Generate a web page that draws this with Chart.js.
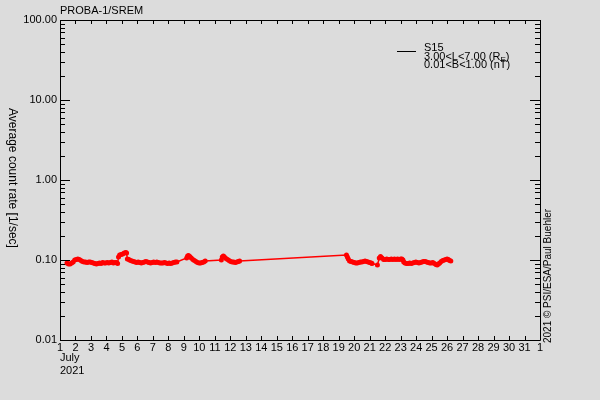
<!DOCTYPE html>
<html><head><meta charset="utf-8">
<script src="https://cdn.jsdelivr.net/npm/chart.js@4/dist/chart.umd.min.js"></script>
<style>html,body{margin:0;padding:0;background:#dcdcdc;overflow:hidden}#wrap{width:600px;height:400px;position:relative}</style>
</head><body><div id="wrap"><canvas id="c" width="600" height="400"></canvas></div>
<script>
const titleText = 'PROBA-1/SREM';
const yAxisTitle = 'Average count rate [1/sec]';
const creditText = '2021 \u00A9 PSI/ESA/Paul Buehler';
const seriesName = 'S15';
const legendLine2 = ['3.00<L<7.00 (R', 'E', ')'];
const legendLine3 = '0.01<B<1.00 (nT)';
const monthLabel = ['July', '2021'];

const days = [
  1.45,1.55,1.65,1.75,1.85,1.95,2.05,2.15,2.25,2.35,2.45,2.55,2.65,2.75,2.85,2.95,3.05,3.15,3.25,3.35,3.45,3.55,3.65,3.75,3.85,3.95,4.05,4.15,4.25,4.35,4.45,4.55,4.65,4.72,
  4.78,4.85,4.95,5.05,5.15,5.25,5.30,
  5.35,5.45,5.55,5.65,5.75,5.85,5.95,6.05,6.15,6.25,6.35,6.45,6.55,6.65,6.75,6.85,6.95,7.05,7.15,7.25,7.35,7.45,7.55,7.65,7.75,7.85,7.95,8.05,8.15,8.25,8.35,8.45,8.55,
  9.18,9.24,9.30,9.38,9.48,9.58,9.68,9.78,9.88,9.98,10.08,10.18,10.28,10.38,
  11.42,11.48,11.55,11.62,11.72,11.82,11.92,12.02,12.12,12.22,12.32,12.42,12.52,12.60,
  19.50,19.56,19.62,19.70,19.80,19.90,20.00,20.10,20.20,20.30,20.40,20.50,20.60,20.70,20.80,20.90,21.00,21.10,21.15,
  21.50,21.62,21.70,21.80,21.90,22.00,22.10,22.20,22.30,22.40,22.50,22.60,22.70,22.80,22.90,23.00,23.08,23.15,
  23.20,23.28,23.38,23.48,23.58,23.68,23.78,23.88,23.98,24.08,24.18,24.28,24.38,24.48,24.58,24.68,24.78,24.88,24.98,
  25.08,25.18,25.28,25.36,25.44,25.52,25.62,25.72,25.82,25.92,26.00,26.08,26.16,26.24
];
const rates = [
  0.0917,0.0891,0.0891,0.0917,0.0944,0.1000,0.1014,0.1029,0.1014,0.0986,0.0958,0.0944,0.0944,0.0931,0.0944,0.0944,0.0931,0.0917,0.0904,0.0891,0.0904,0.0917,0.0904,0.0931,0.0917,0.0917,0.0931,0.0917,0.0931,0.0944,0.0917,0.0931,0.0931,0.0904,
  0.1090,0.1155,0.1172,0.1189,0.1223,0.1241,0.1223,
  0.1029,0.1014,0.0986,0.0972,0.0958,0.0944,0.0931,0.0944,0.0931,0.0917,0.0931,0.0944,0.0958,0.0944,0.0931,0.0917,0.0931,0.0944,0.0931,0.0944,0.0931,0.0917,0.0917,0.0917,0.0931,0.0917,0.0904,0.0917,0.0904,0.0917,0.0931,0.0944,0.0944,
  0.1059,0.1122,0.1138,0.1106,0.1059,0.1014,0.0986,0.0958,0.0931,0.0917,0.0917,0.0931,0.0944,0.0972,
  0.1000,0.1090,0.1122,0.1090,0.1044,0.1014,0.0986,0.0958,0.0944,0.0944,0.0931,0.0944,0.0958,0.0972,
  0.1155,0.1090,0.1029,0.0972,0.0958,0.0944,0.0931,0.0917,0.0917,0.0931,0.0944,0.0944,0.0958,0.0972,0.0958,0.0944,0.0931,0.0917,0.0904,
  0.0866,0.1059,0.1106,0.1059,0.1014,0.1014,0.1029,0.1014,0.1014,0.1029,0.1014,0.1029,0.1014,0.1029,0.1014,0.1029,0.1029,0.1000,
  0.0944,0.0917,0.0904,0.0904,0.0917,0.0904,0.0917,0.0931,0.0944,0.0931,0.0917,0.0931,0.0944,0.0958,0.0958,0.0944,0.0931,0.0917,0.0917,
  0.0931,0.0904,0.0879,0.0866,0.0891,0.0917,0.0958,0.0986,0.1000,0.1014,0.1029,0.1014,0.0986,0.0972
];

const xTickDays = [1,2,3,4,5,6,7,8,9,10,11,12,13,14,15,16,17,18,19,20,21,22,23,24,25,26,27,28,29,30,31,32];
const xTickLabels = ['1','2','3','4','5','6','7','8','9','10','11','12','13','14','15','16','17','18','19','20','21','22','23','24','25','26','27','28','29','30','31','1'];
const yMajor = [0.01, 0.1, 1, 10, 100];
const yMinorMult = [2, 3, 4, 5, 6, 7, 8, 9];
const yMajorLabels = ['0.01', '0.10', '1.00', '10.00', '100.00'];

const FONT = 'Liberation Sans, Arial, sans-serif';

function isMajorVal(v) {
  const l = Math.log10(v);
  return Math.abs(l - Math.round(l)) < 1e-6;
}

const decorPlugin = {
  id: 'decor',
  beforeDraw(chart) {
    const ctx = chart.ctx;
    ctx.save();
    ctx.fillStyle = '#dcdcdc';
    ctx.fillRect(0, 0, chart.width, chart.height);
    ctx.restore();
  },
  afterDraw(chart) {
    const ctx = chart.ctx;
    const a = chart.chartArea;
    const xs = chart.scales.x, ys = chart.scales.y;
    ctx.save();
    ctx.strokeStyle = '#000';
    ctx.lineWidth = 1;
    ctx.beginPath();
    ctx.rect(a.left + 0.5, a.top + 0.5, a.right - a.left, a.bottom - a.top);
    xs.ticks.forEach(t => {
      const px = Math.round(xs.getPixelForValue(t.value)) + 0.5;
      ctx.moveTo(px, a.bottom); ctx.lineTo(px, a.bottom - 4);
      ctx.moveTo(px, a.top); ctx.lineTo(px, a.top + 4);
    });
    ys.ticks.forEach(t => {
      const py = Math.round(ys.getPixelForValue(t.value)) + 0.5;
      const L = isMajorVal(t.value) ? 10 : 5;
      ctx.moveTo(a.left, py); ctx.lineTo(a.left + L, py);
      ctx.moveTo(a.right, py); ctx.lineTo(a.right - L, py);
    });
    ctx.stroke();

    ctx.fillStyle = '#000';
    // title
    ctx.font = '11px ' + FONT;
    ctx.textAlign = 'left';
    ctx.textBaseline = 'alphabetic';
    ctx.fillText(titleText, a.left, 14);

    // y axis title (rotated clockwise)
    ctx.save();
    ctx.translate(12, 178);
    ctx.rotate(Math.PI / 2);
    ctx.textAlign = 'center';
    ctx.textBaseline = 'middle';
    ctx.font = '12px ' + FONT;
    ctx.fillText(yAxisTitle, 0, 0);
    ctx.restore();

    // credit (rotated counter-clockwise)
    ctx.save();
    ctx.translate(548, 276);
    ctx.rotate(-Math.PI / 2);
    ctx.textAlign = 'center';
    ctx.textBaseline = 'middle';
    ctx.font = '10px ' + FONT;
    ctx.fillText(creditText, 0, 0);
    ctx.restore();

    // legend
    ctx.beginPath();
    ctx.moveTo(397, 51.5); ctx.lineTo(416, 51.5);
    ctx.stroke();
    ctx.font = '11px ' + FONT;
    ctx.textAlign = 'left';
    ctx.textBaseline = 'alphabetic';
    ctx.fillText(seriesName, 424, 51);
    let x = 424;
    ctx.fillText(legendLine2[0], x, 59.5);
    x += ctx.measureText(legendLine2[0]).width;
    ctx.font = '8px ' + FONT;
    ctx.fillText(legendLine2[1], x, 61.5);
    x += ctx.measureText(legendLine2[1]).width;
    ctx.font = '11px ' + FONT;
    ctx.fillText(legendLine2[2], x, 59.5);
    ctx.fillText(legendLine3, 424, 68);
    ctx.restore();
  }
};

const points = days.map((d, i) => ({x: d, y: rates[i]}));

new Chart(document.getElementById('c'), {
  type: 'line',
  data: {
    datasets: [{
      label: seriesName,
      data: points,
      borderColor: '#ff0000',
      borderWidth: 1.5,
      pointRadius: 2.5,
      pointHoverRadius: 2.5,
      pointBackgroundColor: '#ff0000',
      pointBorderWidth: 0,
      tension: 0,
      fill: false
    }]
  },
  options: {
    responsive: false,
    animation: false,
    devicePixelRatio: 1,
    events: [],
    layout: {padding: {top: 20, right: 60, left: 0, bottom: 0}},
    plugins: {legend: {display: false}, tooltip: {enabled: false}, title: {display: false}},
    scales: {
      x: {
        type: 'linear', min: 1, max: 32,
        afterBuildTicks: s => { s.ticks = xTickDays.map(v => ({value: v})); },
        afterFit: s => { s.height = 60; },
        grid: {display: false, drawTicks: false},
        border: {display: false},
        ticks: {autoSkip: false, maxRotation: 0, minRotation: 0, padding: 1, color: '#000',
          font: {family: FONT, size: 11},
          callback: (v, i) => xTickLabels[i]},
        title: {display: true, text: monthLabel, align: 'start', color: '#000',
          font: {family: FONT, size: 11}, padding: {top: 0, bottom: 22}}
      },
      y: {
        type: 'logarithmic', min: 0.01, max: 100,
        afterBuildTicks: s => {
          const t = [];
          yMajor.forEach((m, k) => {
            t.push({value: m});
            if (k < yMajor.length - 1) yMinorMult.forEach(f => t.push({value: +(m * f).toPrecision(6)}));
          });
          s.ticks = t;
        },
        afterFit: s => { s.width = 60; },
        grid: {display: false, drawTicks: false},
        border: {display: false},
        ticks: {autoSkip: false, padding: 3, color: '#000', font: {family: FONT, size: 11},
          callback: v => {
            const k = yMajor.findIndex(m => Math.abs(m - v) / m < 1e-6);
            return k >= 0 ? yMajorLabels[k] : '';
          }}
      }
    }
  },
  plugins: [decorPlugin]
});
</script>
</body></html>
